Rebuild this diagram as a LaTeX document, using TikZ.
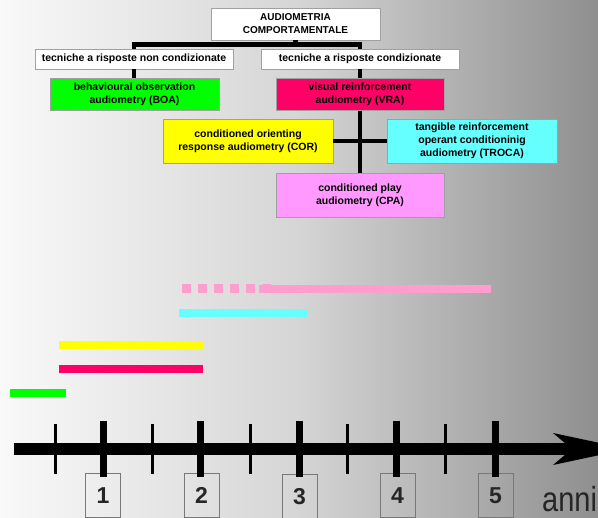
\documentclass[tikz,border=0pt]{standalone}
\usepackage{fontspec}
\setmainfont{Liberation Sans}
\usepackage{graphicx}
\definecolor{bgA}{RGB}{249,249,249}
\definecolor{bgB}{RGB}{213,213,213}
\definecolor{bgC}{RGB}{143,143,143}
\definecolor{boxgray}{RGB}{160,160,160}
\definecolor{numgray}{RGB}{120,120,120}
\definecolor{boagreen}{RGB}{0,255,0}
\definecolor{vrared}{RGB}{255,0,102}
\definecolor{coryellow}{RGB}{255,255,0}
\definecolor{trocacyan}{RGB}{102,255,255}
\definecolor{cpapink}{RGB}{255,153,255}
\definecolor{cpabar}{RGB}{255,157,204}
\begin{document}
\begin{tikzpicture}[x=1pt,y=-1pt,
  box/.style={draw=boxgray, line width=0.8pt, inner sep=0pt, align=center,
    font=\fontsize{10.5}{13}\selectfont\bfseries, text=black},
  conn/.style={line width=4.5pt, black, line join=miter},
  numbox/.style={draw=numgray, line width=0.8pt, inner sep=0pt,
    minimum width=35pt, minimum height=44pt, font=\fontsize{23}{23}\selectfont\bfseries, text=black!85},
  majtick/.style={line width=7pt, black},
  mintick/.style={line width=3pt, black}]
\useasboundingbox (0,0) rectangle (598,518);
\clip (0,0) rectangle (598,518);
% background
\shade[left color=bgA, right color=bgB] (0,0) rectangle (299.5,518);
\shade[left color=bgB, right color=bgC] (299,0) rectangle (598,518);

% boxes
\node[box, fill=white, minimum width=169pt, minimum height=32pt, font=\fontsize{10}{13}\selectfont\bfseries] (title) at (295.5,24) {AUDIOMETRIA\\COMPORTAMENTALE};
\node[box, fill=white, minimum width=198pt, minimum height=20pt] (nc) at (134,59) {tecniche a risposte non condizionate};
\node[box, fill=white, minimum width=198pt, minimum height=20pt] (c) at (360,59) {tecniche a risposte condizionate};
\node[box, fill=boagreen, minimum width=169pt, minimum height=32pt] (boa) at (134.5,94) {behavioural observation\\audiometry (BOA)};
\node[box, fill=vrared, minimum width=168pt, minimum height=32pt] (vra) at (360,94.5) {visual reinforcement\\audiometry (VRA)};
\node[box, fill=coryellow, minimum width=170pt, minimum height=44pt] (cor) at (248,141) {conditioned orienting\\response audiometry (COR)};
\node[box, fill=trocacyan, minimum width=170pt, minimum height=44pt] (troca) at (472,141) {tangible reinforcement\\operant conditioninig\\audiometry (TROCA)};
\node[box, fill=cpapink, minimum width=168pt, minimum height=44pt] (cpa) at (360,195) {conditioned play\\audiometry (CPA)};

% connectors
\coordinate (junc) at (295.5,44.5);
\draw[conn] (title.south) -- (junc);
\draw[conn] (nc.north) |- (junc) -| (c.north);
\draw[conn] (nc.south) -- (nc.south |- boa.north);
\draw[conn] (c.south) -- (vra.north);
\draw[conn] (vra.south) -- (cpa.north);
\draw[conn] (cor.east) -- (troca.west);

% age bars
\foreach \x in {182,198,214,230,246,262}
  \fill[cpabar] (\x,284) rectangle (\x+9,293);
\fill[cpabar] (259,285) rectangle (491,293);
\fill[trocacyan] (179,309) rectangle (307,317);
\fill[coryellow] (59,341) rectangle (203,349);
\fill[vrared] (59,365) rectangle (203,373);
\fill[boagreen] (10,389) rectangle (66,397);

% number boxes
\node[numbox] (n1) at (103,495.5) {1};
\node[numbox] (n2) at (201.5,495.5) {2};
\node[numbox] (n3) at (299.5,496.5) {3};
\node[numbox] (n4) at (397.5,495.5) {4};
\node[numbox] (n5) at (495.5,495.5) {5};

% axis
\draw[line width=12pt, black] (14,449) -- (580,449);
\fill[black] (553,433) -- (628,449) -- (553,465) -- (572,449) -- cycle;
\foreach \x in {55,152,250,347,445}
  \draw[mintick] (\x,424) -- (\x,474);
\foreach \x in {103,200,299,396,495}
  \draw[majtick] (\x,421) -- (\x,477);

\node[anchor=base west, inner sep=0pt, font=\fontsize{29}{29}\selectfont, text=black!85] (anni) at (542,512) {\scalebox{1}[1.2]{anni}};
\end{tikzpicture}
\end{document}
